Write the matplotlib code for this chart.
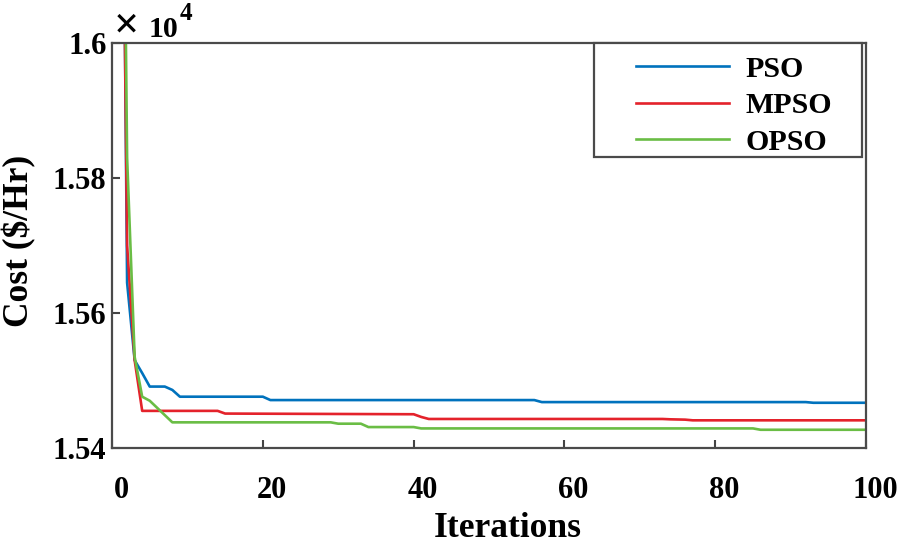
import matplotlib
matplotlib.use("Agg")
import matplotlib.pyplot as plt
from matplotlib.patches import Rectangle
from matplotlib.ticker import FuncFormatter

# iteration / cost breakpoints
pso_iter = [1, 2, 3, 4, 5, 7, 8, 9, 20, 21, 56, 57, 92, 93, 100]
pso_cost = [16900, 15645, 15530, 15511, 15491, 15491, 15486, 15476, 15476,
            15471, 15471, 15468, 15468, 15467, 15467]

mpso_iter = [1, 2, 3, 4, 14, 15, 40, 41, 42, 73, 74, 76, 77, 100]
mpso_cost = [16750, 15700, 15530, 15455, 15455, 15451, 15450, 15446, 15443,
             15443, 15442.5, 15442, 15441, 15441]

opso_iter = [1, 2, 3, 4, 5, 8, 29, 30, 33, 34, 40, 41, 85, 86, 100]
opso_cost = [16900, 15830, 15535, 15476, 15470, 15438, 15438, 15436, 15436,
             15431, 15431, 15429, 15429, 15427, 15427]

labels = ["PSO", "MPSO", "OPSO"]
colors = ["#0072BD", "#E4222B", "#6ABD45"]
xticks = [0, 20, 40, 60, 80, 100]

plt.rcParams['font.family'] = ['Liberation Serif', 'DejaVu Serif']
plt.rcParams['font.weight'] = 'bold'

fig = plt.figure(figsize=(9.02, 5.45), dpi=100)
ax = fig.add_axes([0.1242, 0.178, 0.836, 0.743])

series = [(pso_iter, pso_cost), (mpso_iter, mpso_cost), (opso_iter, opso_cost)]
for (xs, ys), lab, col in zip(series, labels, colors):
    ax.plot(xs, ys, color=col, lw=1.9, label=lab)

ax.set_xlim(0, 100)
ax.set_ylim(15400, 16000)
ax.set_xticks(xticks)
ax.set_xticklabels([])
ax.set_yticks([15400, 15600, 15800, 16000])
ax.yaxis.set_major_formatter(FuncFormatter(lambda v, p: f"{v / 1e4:g}"))

ax.tick_params(direction='in', length=6, width=1.5, color='#444444',
               labelsize=22)
ax.tick_params(axis='y', pad=4)
for lab in ax.get_yticklabels():
    lab.set_fontweight('bold')

# x tick labels sit a little right of their ticks in the matlab export
for v in xticks:
    ax.annotate(str(v), xy=(v, 0), xycoords=('data', 'axes fraction'),
                xytext=(6.5, -20), textcoords='offset points',
                ha='center', va='top', fontsize=22, fontweight='bold')

for s in ax.spines.values():
    s.set_color('#4a4a4a')
    s.set_linewidth(1.6)

ax.set_xlabel("Iterations", fontsize=25.5, fontweight='bold')
ax.xaxis.set_label_coords(0.525, -0.158)
ax.xaxis.label.set_va('top')
ax.set_ylabel("Cost ($/Hr)", fontsize=25.5, fontweight='bold')
ax.yaxis.set_label_coords(-0.1, 0.512)

# exponent label "x 10^4"
ax.text(0.002, 1.0148, "×", transform=ax.transAxes, fontsize=32,
        ha='left', va='baseline', fontweight='bold')
ax.text(0.049, 1.0148, "10", transform=ax.transAxes, fontsize=21.5,
        ha='left', va='baseline', fontweight='bold')
ax.text(0.090, 1.057, "4", transform=ax.transAxes, fontsize=18,
        ha='left', va='baseline', fontweight='bold')

# legend box drawn separately so the entries can sit inset like matlab's
frame = Rectangle((0.639, 0.7185), 0.356, 0.2815, transform=ax.transAxes,
                  facecolor='white', edgecolor='#4a4a4a', lw=1.6,
                  clip_on=False, zorder=4)
ax.add_patch(frame)
leg = ax.legend(loc='upper left', bbox_to_anchor=(0.695, 0.969),
                fontsize=21.5, handlelength=3.1, handletextpad=0.55,
                labelspacing=0.32, borderpad=0.0, borderaxespad=0.0,
                frameon=False)
leg.set_zorder(5)
for t in leg.get_texts():
    t.set_fontweight('bold')

fig.savefig("out.png", dpi=100)
